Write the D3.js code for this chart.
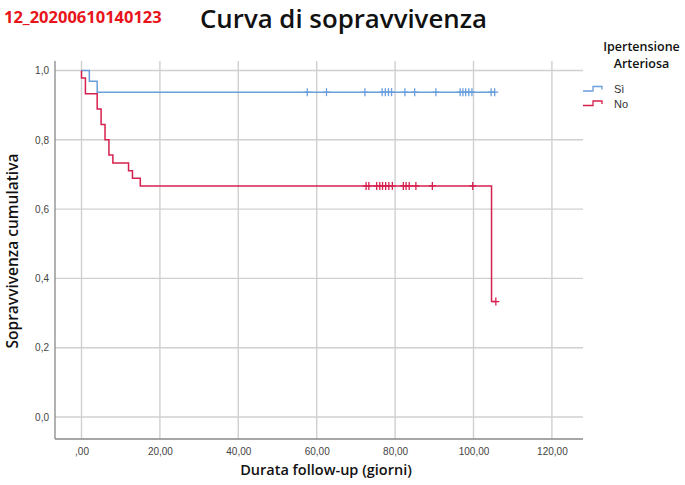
<!DOCTYPE html>
<html><head><meta charset="utf-8">
<script src="https://cdn.jsdelivr.net/npm/d3@7"></script>
<style>body{margin:0;background:#fff}svg{display:block}</style>
</head><body>
<script>
// ---- data ----
const xTicks = [0, 20, 40, 60, 80, 100, 120];
const yTicks = [0, 0.2, 0.4, 0.6, 0.8, 1.0];
const groups = ["Sì", "No"];
// Sì (blue)
const siEventTimes = [2, 4];
const siEventSurv = [0.969, 0.9375];
const siEnd = 105.4;
const siCensor = [57.6, 62.5, 72.3, 76.7, 77.5, 78.3, 79.1, 82.5, 85.0, 90.4, 96.6, 97.3, 98.0, 98.8, 99.6, 104.5, 105.4];
// No (red)
const noEventTimes = [0, 1, 4, 5, 6, 7, 8, 12, 13, 15, 104.6];
const noEventSurv = [0.978, 0.933, 0.889, 0.844, 0.800, 0.756, 0.733, 0.711, 0.689, 0.667, 0.333];
const noEnd = 105.7;
const noCensor = [72.6, 73.3, 75.3, 76.1, 76.8, 77.6, 78.4, 79.3, 82.1, 82.8, 83.6, 85.3, 89.5, 99.8, 105.7];

const W = 685, H = 485;
const colors = {"Sì": "#6a9fdc", "No": "#d6204e"};
const svg = d3.select("body").append("svg").attr("width", W).attr("height", H);

const frame = {l: 55, r: 583, t: 61, b: 439};
const x = d3.scaleLinear().domain([0, 120]).range([81.5, 551.9]);
const y = d3.scaleLinear().domain([0, 1]).range([417, 70.5]);

// gridlines
const grid = svg.append("g").attr("stroke", "#d0d0d0").attr("stroke-width", 1.4);
grid.selectAll(".vg").data(xTicks).join("line")
  .attr("x1", d => x(d)).attr("x2", d => x(d)).attr("y1", frame.t).attr("y2", frame.b);
grid.selectAll(".hg").data(yTicks).join("line")
  .attr("x1", frame.l).attr("x2", frame.r).attr("y1", d => y(d)).attr("y2", d => y(d));

// axes
const fmtX = d => d === 0 ? ",00" : d + ",00";
const fmtY = d => d3.format(".1f")(d).replace(".", ",");
const xAxis = d3.axisBottom(x).tickValues(xTicks).tickFormat(fmtX).tickSize(0).tickPadding(9);
const yAxis = d3.axisLeft(y).tickValues(yTicks).tickFormat(fmtY).tickSize(0).tickPadding(6);
const gx = svg.append("g").attr("transform", `translate(0,${frame.b})`).call(xAxis);
const gy = svg.append("g").attr("transform", `translate(${frame.l},0)`).call(yAxis);
[gx, gy].forEach(g => {
  g.select(".domain").remove();
  g.selectAll("text").attr("font-family", "Liberation Sans, Arial, sans-serif").attr("font-size", 10).attr("fill", "#444");
});
svg.append("line").attr("x1", frame.l).attr("x2", frame.r).attr("y1", frame.b).attr("y2", frame.b).attr("stroke", "#888").attr("stroke-width", 1.3);
svg.append("line").attr("x1", frame.l).attr("x2", frame.l).attr("y1", frame.t).attr("y2", frame.b).attr("stroke", "#888").attr("stroke-width", 1.3);

// step curves
function stepPoints(times, surv, end) {
  const pts = [[0, 1]];
  let prev = 1;
  times.forEach((t, i) => { pts.push([t, prev]); pts.push([t, surv[i]]); prev = surv[i]; });
  pts.push([end, prev]);
  return pts;
}
function survAt(times, surv, t) {
  let s = 1;
  times.forEach((tt, i) => { if (tt <= t) s = surv[i]; });
  return s;
}
const line = d3.line().x(d => x(d[0])).y(d => y(d[1]));
const series = [
  {name: "Sì", times: siEventTimes, surv: siEventSurv, end: siEnd, cens: siCensor},
  {name: "No", times: noEventTimes, surv: noEventSurv, end: noEnd, cens: noCensor}
];
series.forEach(s => {
  svg.append("path").attr("d", line(stepPoints(s.times, s.surv, s.end)))
    .attr("fill", "none").attr("stroke", colors[s.name]).attr("stroke-width", 1.5);
  const g = svg.append("g").attr("stroke", colors[s.name]).attr("stroke-width", 1.3);
  s.cens.forEach(t => {
    const cx = x(t), cy = y(survAt(s.times, s.surv, t));
    g.append("line").attr("x1", cx).attr("x2", cx).attr("y1", cy - 4).attr("y2", cy + 4);
    g.append("line").attr("x1", cx - 3.5).attr("x2", cx + 3.5).attr("y1", cy).attr("y2", cy);
  });
});

// titles
svg.append("text").attr("x", 4).attr("y", 23).text("12_20200610140123")
  .attr("font-family", "Open Sans, sans-serif").attr("font-weight", 700).attr("font-size", 16.5).attr("fill", "#e8141b");
svg.append("text").attr("x", 343.5).attr("y", 28).attr("text-anchor", "middle").text("Curva di sopravvivenza")
  .attr("font-family", "Open Sans, sans-serif").attr("font-weight", 600).attr("font-size", 25)
  .attr("textLength", 287).attr("lengthAdjust", "spacingAndGlyphs").attr("fill", "#111");
svg.append("text").attr("x", 326).attr("y", 475).attr("text-anchor", "middle").text("Durata follow-up (giorni)")
  .attr("font-family", "Open Sans, sans-serif").attr("font-weight", 600).attr("font-size", 14.5).attr("fill", "#111");
svg.append("text").attr("transform", "translate(18,251) rotate(-90)").attr("text-anchor", "middle").text("Sopravvivenza cumulativa")
  .attr("font-family", "Open Sans, sans-serif").attr("font-weight", 600).attr("font-size", 15.5).attr("fill", "#111");

// legend
const lg = svg.append("g");
lg.append("text").attr("x", 641.5).attr("y", 51).attr("text-anchor", "middle").text("Ipertensione")
  .attr("font-family", "Open Sans, sans-serif").attr("font-weight", 600).attr("font-size", 12.5).attr("fill", "#111");
lg.append("text").attr("x", 641.5).attr("y", 68).attr("text-anchor", "middle").text("Arteriosa")
  .attr("font-family", "Open Sans, sans-serif").attr("font-weight", 600).attr("font-size", 12.5).attr("fill", "#111");
groups.forEach((gname, i) => {
  const yy = 91 + i * 14.5;
  const p = `M583,${yy} L593,${yy} L593,${yy - 4.5} L602,${yy - 4.5} L602,${yy - 1.5}`;
  lg.append("path").attr("d", p).attr("fill", "none").attr("stroke", colors[gname]).attr("stroke-width", 1.3);
  lg.append("text").attr("x", 614).attr("y", yy + 2).text(gname)
    .attr("font-family", "Liberation Sans, Arial, sans-serif").attr("font-size", 11).attr("fill", "#333");
});
</script>
</body></html>
